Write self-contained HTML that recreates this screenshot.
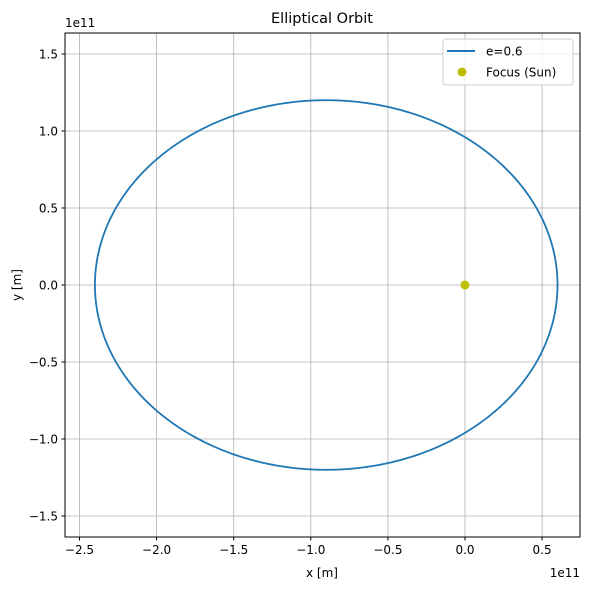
<!DOCTYPE html>
<html><head><meta charset="utf-8"><style>
body{margin:0;background:#fff}
text{font-family:"DejaVu Sans","Liberation Sans",sans-serif;fill:#000}
</style></head><body>
<svg width="590" height="590" viewBox="0 0 590 590">
<rect width="590" height="590" fill="#fff"/>
<g id="grid"></g>
<g id="orbit"></g>
<g id="ticks"></g>
<rect x="65" y="33" width="515" height="504" fill="none" stroke="#000" stroke-width="1"/>
<text x="322" y="23" font-size="14.5" text-anchor="middle">Elliptical Orbit</text>
<text x="322" y="577" font-size="12" text-anchor="middle">x [m]</text>
<text x="21" y="285" font-size="12" text-anchor="middle" transform="rotate(-90 21 285)">y [m]</text>
<text x="65" y="27" font-size="12">1e11</text>
<text x="580" y="577" font-size="12" text-anchor="end">1e11</text>
<g>
<rect x="443" y="39" width="130" height="46" rx="3" fill="#fff" fill-opacity="0.8" stroke="#ccc"/>
<line x1="447" y1="51" x2="475" y2="51" stroke="#1f77b4" stroke-width="2"/>
<text x="486" y="55.5" font-size="12">e=0.6</text>
<circle cx="462" cy="72" r="4.5" fill="#bfbf00"/>
<text x="486" y="76.5" font-size="12">Focus (Sun)</text>
</g>
</svg>
<script>
const semiMajor=[1.5e11];
const eccentricity=[0.6];
const focusPoint=[0,0];
const xTicks=[-2.5,-2.0,-1.5,-1.0,-0.5,0.0,0.5];
const yTicks=[-1.5,-1.0,-0.5,0.0,0.5,1.0,1.5];
const NS='http://www.w3.org/2000/svg';
const sx=v=>465+v/1e11*154.2;
const sy=v=>285-v/1e11*154;
function mk(t,a,p){const e=document.createElementNS(NS,t);for(const k in a)e.setAttribute(k,a[k]);p.appendChild(e);return e;}
const grid=document.getElementById('grid'),ticks=document.getElementById('ticks'),orbit=document.getElementById('orbit');
xTicks.forEach(v=>{const x=sx(v*1e11);
 const g=mk('line',{x1:x,x2:x,y1:33,y2:537,stroke:'#b0b0b0','stroke-width':0.8},grid);
 
 
 mk('line',{x1:x,x2:x,y1:537,y2:540.5,stroke:'#000'},ticks);
 const t=mk('text',{x:x,y:554,'font-size':12,'text-anchor':'middle'},ticks);t.textContent=v.toFixed(1).replace('-','−');
 
 
});
yTicks.forEach(v=>{const y=sy(v*1e11);
 const g=mk('line',{x1:65,x2:580,y1:y,y2:y,stroke:'#b0b0b0','stroke-width':0.8},grid);
 
 
 mk('line',{x1:61.5,x2:65,y1:y,y2:y,stroke:'#000'},ticks);
 const t=mk('text',{x:58,y:y+4.5,'font-size':12,'text-anchor':'end'},ticks);t.textContent=v.toFixed(1).replace('-','−');
 
 
});
const a=semiMajor[0],e=eccentricity[0],b=a*Math.sqrt(1-e*e),cx=-a*e;
let d='';
for(let i=0;i<=400;i++){const th=i/400*2*Math.PI;const x=cx+a*Math.cos(th),y=b*Math.sin(th);d+=(i?'L':'M')+sx(x).toFixed(2)+','+sy(y).toFixed(2);}
const p=mk('path',{d:d,fill:'none',stroke:'#1f77b4','stroke-width':1.8},orbit);


const f=mk('circle',{cx:sx(focusPoint[0]),cy:sy(focusPoint[1]),r:4.5,fill:'#bfbf00'},orbit);


</script>
</body></html>
